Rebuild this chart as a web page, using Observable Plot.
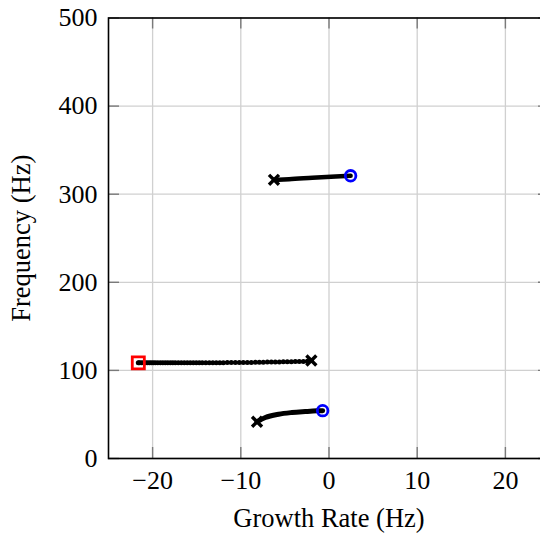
<!DOCTYPE html>
<html>
<head>
<meta charset="utf-8">
<script src="https://cdn.jsdelivr.net/npm/d3@7"></script>
<script src="https://cdn.jsdelivr.net/npm/@observablehq/plot@0.6"></script>
<style>
  html, body { margin: 0; padding: 0; background: white; overflow: hidden; }
</style>
</head>
<body>
<div id="chart"></div>
<script>
// Tick values
const xTicks = [-20, -10, 0, 10, 20];
const yTicks = [0, 100, 200, 300, 400, 500];

// Upper branch (start: cross, end: blue circle)
const upperX = [-6.24, -4.53, -1.89, 0.75, 2.45];
const upperY = [316.3, 317.0, 318.6, 320.1, 320.9];

// Lower branch (start: cross, end: blue circle)
const lowerX = [-8.16, -7.22, -5.71, -4.2, -2.69, -1.36, -0.72];
const lowerY = [41.7, 46.5, 50.3, 52.2, 53.3, 54.1, 54.3];

// Middle branch, dotted (start: cross on the right, end: red square on the left)
const middleX = [-2.0, -2.46, -2.91, -3.37, -3.82, -4.27, -4.73, -5.18, -5.63, -6.09,
  -6.54, -6.99, -7.45, -7.90, -8.35, -8.81, -9.26, -9.72, -10.17, -10.62,
  -11.08, -11.53, -11.98, -12.38, -12.78, -13.17, -13.57, -13.97, -14.37, -14.71,
  -15.05, -15.39, -15.73, -16.07, -16.41, -16.75, -17.09, -17.43, -17.71, -17.99,
  -18.28, -18.56, -18.84, -19.12, -19.41, -19.69, -19.92, -20.15, -20.37, -20.60,
  -20.83, -21.05, -21.28, -21.51, -21.62];
const middleY = [111.2, 110.4, 110.2, 110.1, 110.0, 109.9, 109.8, 109.7, 109.6, 109.5,
  109.4, 109.4, 109.3, 109.2, 109.2, 109.1, 109.1, 109.0, 109.0, 108.9,
  108.9, 108.9, 108.8, 108.8, 108.8, 108.8, 108.7, 108.7, 108.7, 108.7,
  108.7, 108.7, 108.6, 108.6, 108.6, 108.6, 108.6, 108.6, 108.6, 108.6,
  108.6, 108.6, 108.6, 108.6, 108.6, 108.6, 108.6, 108.6, 108.6, 108.6,
  108.6, 108.6, 108.6, 108.6, 108.6];

const xDomain = [-25, 25];
const yDomain = [0, 500];

const toRows = (xs, ys) => xs.map((x, i) => ({x, y: ys[i]}));
const upper = toRows(upperX, upperY);
const lower = toRows(lowerX, lowerY);
const middle = toRows(middleX, middleY);

const starts = [upper[0], middle[0], lower[0]];
const circleEnds = [upper[upper.length - 1], lower[lower.length - 1]];
const squareEnds = [middle[middle.length - 1]];

const W = 540, H = 534;
const mL = 108, mR = -9, mT = 17.5, mB = 76;
const frameW = W - mL - mR, frameH = H - mT - mB;
const tick = 11;
const font = "'Liberation Serif', 'Times New Roman', serif";

const chart = Plot.plot({
  width: W,
  height: H,
  marginLeft: mL,
  marginRight: mR,
  marginTop: mT,
  marginBottom: mB,
  style: {fontFamily: font, fontSize: "26px", background: "white", overflow: "hidden"},
  x: {domain: xDomain, axis: null},
  y: {domain: yDomain, axis: null},
  marks: [
    Plot.gridX(xTicks, {stroke: "#d0d0d0", strokeOpacity: 1, strokeWidth: 1.3}),
    Plot.gridY(yTicks, {stroke: "#d0d0d0", strokeOpacity: 1, strokeWidth: 1.3}),
    // inward ticks
    Plot.ruleX(xTicks, {x: d => d, insetTop: frameH - tick, stroke: "#7a7a7a", strokeWidth: 1.4}),
    Plot.ruleX(xTicks, {x: d => d, insetBottom: frameH - tick, stroke: "#7a7a7a", strokeWidth: 1.4}),
    Plot.ruleY(yTicks, {y: d => d, insetRight: frameW - tick, stroke: "#7a7a7a", strokeWidth: 1.4}),
    Plot.ruleY(yTicks, {y: d => d, insetLeft: frameW - tick, stroke: "#7a7a7a", strokeWidth: 1.4}),
    // tick labels
    Plot.axisX(xTicks, {anchor: "bottom", tickSize: 0, tickPadding: 12, fontSize: 26, fill: "black", label: null}),
    Plot.axisY(yTicks, {anchor: "left", tickSize: 0, tickPadding: 11, fontSize: 26, fill: "black", label: null}),
    // axis titles
    Plot.text(["Growth Rate (Hz)"], {frameAnchor: "bottom", textAnchor: "middle", lineAnchor: "middle", dy: 60, fontSize: 26.5, fill: "black"}),
    Plot.text(["Frequency (Hz)"], {frameAnchor: "left", textAnchor: "middle", lineAnchor: "middle", dx: -87, rotate: -90, fontSize: 26.5, fill: "black"}),
    // branches
    Plot.line(upper, {x: "x", y: "y", stroke: "black", strokeWidth: 4.5, curve: "monotone-x"}),
    Plot.line(lower, {x: "x", y: "y", stroke: "black", strokeWidth: 5, curve: "monotone-x"}),
    Plot.line(middle, {x: "x", y: "y", stroke: "black", strokeWidth: 2}),
    Plot.dot(middle, {x: "x", y: "y", r: 2.5, fill: "black"}),
    // markers
    Plot.dot(starts, {x: "x", y: "y", symbol: "times", r: 4.6, stroke: "black", strokeWidth: 3.4}),
    Plot.dot(circleEnds, {x: "x", y: "y", symbol: "circle", r: 5.3, stroke: "#0000ff", strokeWidth: 2.8, fill: "none"}),
    Plot.dot(squareEnds, {x: "x", y: "y", symbol: "square", r: 6.8, stroke: "#ff0000", strokeWidth: 2.8, fill: "none"}),
    Plot.frame({stroke: "black", strokeWidth: 1.6})
  ]
});

document.getElementById("chart").appendChild(chart);
</script>
</body>
</html>
